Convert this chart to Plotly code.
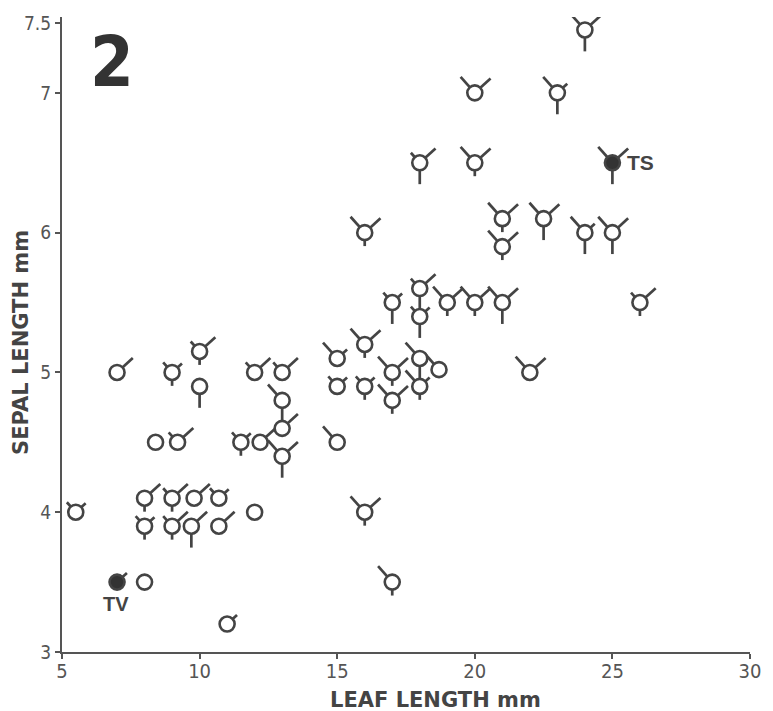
import math
import plotly.graph_objects as go

# ---------------- data ----------------
leaf = [24, 20, 23, 18, 20, 25, 21, 22.5, 16, 24, 25, 21,
        17, 18, 18, 19, 20, 21, 26,
        10, 16, 15, 18, 7, 9, 12, 13, 17, 18.7, 22,
        10, 15, 16, 18, 13, 17, 13,
        8.4, 9.2, 11.5, 12.2, 15, 13,
        8, 9, 9.8, 10.7, 5.5, 12, 16,
        8, 9, 9.7, 10.7, 7, 8, 17, 11]
sepal = [7.45, 7.0, 7.0, 6.5, 6.5, 6.5, 6.1, 6.1, 6.0, 6.0, 6.0, 5.9,
         5.5, 5.6, 5.4, 5.5, 5.5, 5.5, 5.5,
         5.15, 5.2, 5.1, 5.1, 5.0, 5.0, 5.0, 5.0, 5.0, 5.02, 5.0,
         4.9, 4.9, 4.9, 4.9, 4.8, 4.8, 4.6,
         4.5, 4.5, 4.5, 4.5, 4.5, 4.4,
         4.1, 4.1, 4.1, 4.1, 4.0, 4.0, 4.0,
         3.9, 3.9, 3.9, 3.9, 3.5, 3.5, 3.5, 3.2]
# ray codes: 0 = absent, 1 = short, 2 = long
ray_nw = [2, 2, 2, 1, 2, 2, 2, 2, 2, 2, 2, 2,
          1, 1, 1, 2, 2, 2, 1,
          1, 2, 2, 2, 0, 1, 1, 1, 2, 2, 2,
          0, 1, 1, 2, 2, 2, 0,
          0, 1, 1, 0, 2, 2,
          0, 1, 0, 1, 1, 0, 2,
          1, 1, 0, 0, 0, 0, 2, 0]
ray_ne = [2, 2, 1, 2, 2, 2, 2, 2, 2, 1, 2, 2,
          1, 2, 1, 2, 2, 2, 2,
          2, 2, 1, 0, 2, 1, 2, 2, 2, 0, 2,
          0, 1, 1, 1, 0, 2, 2,
          0, 2, 1, 2, 0, 2,
          2, 2, 2, 1, 1, 0, 2,
          1, 2, 2, 2, 1, 0, 0, 1]
ray_s = [2, 0, 2, 2, 1, 2, 1, 2, 1, 2, 2, 1,
         2, 2, 2, 1, 1, 2, 1,
         1, 1, 0, 2, 0, 1, 0, 0, 1, 0, 0,
         2, 0, 1, 1, 2, 1, 0,
         0, 0, 1, 0, 0, 2,
         1, 1, 0, 0, 0, 0, 1,
         1, 1, 2, 0, 0, 0, 1, 0]
filled = [0, 0, 0, 0, 0, 1, 0, 0, 0, 0, 0, 0,
          0, 0, 0, 0, 0, 0, 0,
          0, 0, 0, 0, 0, 0, 0, 0, 0, 0, 0,
          0, 0, 0, 0, 0, 0, 0,
          0, 0, 0, 0, 0, 0,
          0, 0, 0, 0, 0, 0, 0,
          0, 0, 0, 0, 1, 0, 0, 0]
point_label = {5: "TS", 54: "TV"}

x_ticks = [5, 10, 15, 20, 25, 30]
y_ticks = [3, 4, 5, 6, 7, 7.5]
y_tick_text = ["3", "4", "5", "6", "7", "7.5"]

# ---------------- layout geometry ----------------
W, H = 773, 711
ML, MR, MB = 62, 13, 59
PX_PER_Y = 140.4
X_RANGE = [5, 30]
Y_TOP = 7.5 + 6 / PX_PER_Y
Y_RANGE = [3, Y_TOP]
MT = H - MB - (Y_TOP - 3) * PX_PER_Y
plot_w = W - ML - MR
plot_h = H - MT - MB
px_x = plot_w / (X_RANGE[1] - X_RANGE[0])
px_y = plot_h / (Y_RANGE[1] - Y_RANGE[0])

RAY_LEN = {0: 0.0, 1: 13.5, 2: 21.5}     # pixels from glyph centre
RAY_ANG = {"nw": 132, "ne": 42, "s": 270}  # degrees

INK = "#444444"

rx, ry = [], []
for i in range(len(leaf)):
    for key, arr in (("nw", ray_nw), ("ne", ray_ne), ("s", ray_s)):
        L = RAY_LEN[arr[i]]
        if L <= 0:
            continue
        a = math.radians(RAY_ANG[key])
        rx += [leaf[i], leaf[i] + L * math.cos(a) / px_x, None]
        ry += [sepal[i], sepal[i] + L * math.sin(a) / px_y, None]

fig = go.Figure()
fig.add_trace(go.Scatter(x=rx, y=ry, mode="lines",
                         line=dict(color=INK, width=2.7),
                         hoverinfo="skip", showlegend=False))
fig.add_trace(go.Scatter(
    x=leaf, y=sepal, mode="markers", cliponaxis=False, showlegend=False,
    marker=dict(symbol="circle", size=15,
                color=["#333333" if f else "white" for f in filled],
                line=dict(color=INK, width=2.6))))

def paper(px, py):
    return (px - ML) / plot_w, (H - MB - py) / plot_h

ann = []
for i, t in point_label.items():
    if t == "TS":
        ann.append(dict(x=leaf[i], y=sepal[i], text="<b>TS</b>", showarrow=False,
                        xanchor="left", yanchor="middle", xshift=13,
                        font=dict(family="Liberation Sans, Arial", size=21, color="#444")))
    else:
        ann.append(dict(x=leaf[i], y=sepal[i], text="<b>TV</b>", showarrow=False,
                        xanchor="center", yanchor="top", yshift=-9, xshift=-1,
                        font=dict(family="Liberation Sans, Arial", size=20, color="#444")))

px_, py_ = paper(113, 59)
ann.append(dict(x=px_, y=py_, xref="paper", yref="paper", text="<b>2</b>", showarrow=False,
                xanchor="center", yanchor="middle",
                font=dict(family="Liberation Sans Narrow, DejaVu Sans Condensed, sans-serif",
                          size=70, color="#333")))
px_, py_ = paper(441, 700)
ann.append(dict(x=px_, y=py_, xref="paper", yref="paper", text="<b>LEAF LENGTH mm</b>",
                showarrow=False, xanchor="center", yanchor="middle",
                font=dict(family="DejaVu Sans", size=21, color="#444")))
px_, py_ = paper(21, 341)
ann.append(dict(x=px_, y=py_, xref="paper", yref="paper", text="<b>SEPAL LENGTH mm</b>",
                showarrow=False, xanchor="center", yanchor="middle", textangle=-90,
                font=dict(family="DejaVu Sans", size=21, color="#444")))

tickfont = dict(family="Liberation Sans Narrow, DejaVu Sans Condensed, sans-serif",
                color="#555", size=20)
fig.update_layout(
    width=W, height=H, margin=dict(l=ML, r=MR, t=MT, b=MB, pad=0),
    paper_bgcolor="white", plot_bgcolor="white",
    xaxis=dict(range=X_RANGE, tickvals=x_ticks, showgrid=False, zeroline=False,
               showline=True, linecolor="#555", linewidth=2.2,
               ticks="outside", ticklen=5, tickwidth=1.5, tickcolor="#555",
               tickfont=tickfont, ticklabelstandoff=-5, fixedrange=True),
    yaxis=dict(range=Y_RANGE, tickvals=y_ticks, ticktext=y_tick_text,
               showgrid=False, zeroline=False,
               showline=True, linecolor="#555", linewidth=2.2,
               ticks="outside", ticklen=5, tickwidth=1.5, tickcolor="#555",
               tickfont=dict(tickfont, size=19), fixedrange=True),
    annotations=ann,
)
fig.write_html("out.html", config={"displayModeBar": False},
               post_script="document.body.style.margin='0';document.body.style.padding='0';")
